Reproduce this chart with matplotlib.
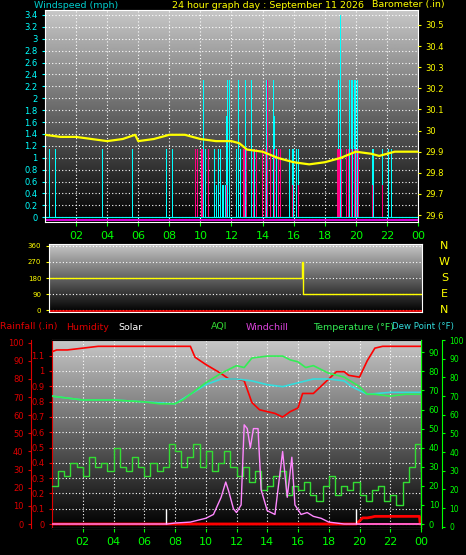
import numpy as np
import matplotlib
matplotlib.use("Agg")
import matplotlib.pyplot as plt

# ---------------- data ----------------
baro_t = [0,1,2,3,4,5,5.8,6,7,8,9,10,11,12,12.5,13,14,15,16,17,18,19,20,21,21.5,22,22.5,24]
baro_v = [29.98,29.97,29.97,29.96,29.95,29.96,29.98,29.95,29.96,29.98,29.98,29.96,29.95,29.95,29.94,29.91,29.90,29.87,29.85,29.84,29.85,29.87,29.90,29.89,29.88,29.89,29.90,29.90]
gust_t = [0.28,0.45,0.69,3.7,5.6,5.65,7.8,8.05,8.2,8.3,9.4,9.7,9.85,10.2,10.35,10.5,10.75,10.9,11.05,11.15,11.3,11.4,11.5,11.6,11.7,11.75,11.85,12.1,12.3,12.45,12.6,12.8,12.9,13.0,13.3,13.5,13.7,14.0,14.25,14.35,14.7,14.75,14.9,15.25,15.5,15.75,15.9,16.0,16.2,16.3,18.85,18.9,19.0,19.05,19.5,19.6,19.7,19.8,19.9,20.0,20.1,20.2,21.05,21.15,21.7,22.1,22.3]
gust_v = [1.14,0.55,1.14,1.14,1.14,1.14,1.14,1.14,1.14,0.55,1.14,1.14,1.14,2.3,1.14,0.55,1.14,1.14,0.55,1.14,1.14,0.55,0.55,0.55,1.7,2.3,2.3,1.14,1.14,2.3,1.14,2.3,2.3,2.3,2.3,1.14,1.14,1.14,2.3,1.7,2.3,1.7,1.14,1.14,1.14,1.14,1.14,1.14,1.14,1.14,1.7,2.3,3.4,2.3,1.7,2.3,2.3,2.3,2.3,2.3,2.3,2.3,1.14,1.14,1.14,1.14,1.14]
avg_t = [9.7,9.8,10.1,10.5,11.7,12.75,12.85,12.95,13.4,13.6,14.0,14.2,14.3,14.5,14.75,15.0,15.15,15.9,16.3,18.85,18.95,19.05,19.4,19.55,19.75,19.9,20.05,20.15,21.05,21.7]
avg_v = [1.14,1.14,1.14,1.14,0.55,1.14,1.14,1.14,1.14,1.14,1.14,1.14,2.3,1.14,1.14,1.14,1.14,0.55,0.55,1.14,1.14,1.14,1.14,1.14,1.14,1.14,1.14,1.14,0.55,0.55]
dir_t = [0,16.3,16.3,16.35,16.35,24]
dir_v = [180,180,270,270,90,90]
temp_t = [0,2,4,6,7,8,8.5,9,10,11,12,12.5,13,14,15,15.5,16,16.5,17,18,19,20,20.5,21,22,23,24]
temp_v = [67,65,65,64,63,63,65,68,74,79,83,82,87,88,88,86,85,82,83,79,77,72,68,68,67,68,68]
dew_t = [0,2,4,6,8,9,10,11,12,13,14,15,16,17,18,19,19.5,20,20.5,22,24]
dew_v = [67,65,65,64,63,68,73,76,76,75,73,72,74,76,76,75,72,70,68,69,69]
hum_t = [0,0.3,1,2,3,9,9.3,10,11,11.5,12,12.5,13,13.5,14,14.5,15,15.5,16,16.3,17,17.5,18,18.5,19,19.3,20,20.5,21,21.5,24]
hum_v = [95,96,96,97,98,98,92,88,83,80,80,79,67,63,62,61,59,62,64,72,72,76,80,84,84,82,81,90,97,98,98]
aqi_t = list(np.arange(0, 24.01, 0.4))
aqi_v = [20,28,25,32,30,25,35,30,32,28,40,30,28,35,30,25,32,28,30,42,38,30,35,42,30,38,28,32,38,30,25,30,22,28,18,20,25,28,15,20,18,22,15,12,20,25,15,20,18,22,15,12,18,20,12,15,10,22,30,42,28]
sol_t = [0,7.5,8,9,9.5,10,10.5,11,11.3,11.5,11.8,12,12.3,12.5,12.7,12.9,13.1,13.4,13.6,14,14.5,15,15.3,15.6,15.8,16.2,16.6,17,17.5,18,19,24]
sol_v = [0,0,0.5,1,2,3,5,14,22,17,8,6,10,52,50,40,50,50,18,7,5,38,14,35,10,5,6,4,3,1,0,0]
rain_t = [0,19.8,20.2,20.5,20.8,21,23.9,23.95,24]
rain_v = [0,0,0.04,0.04,0.045,0.05,0.05,0,0]
hour_ticks = list(range(2, 25, 2))
hour_labels = ["%02d" % (h % 24) for h in hour_ticks]

W, H = 466, 555
fig = plt.figure(figsize=(W/100, H/100), dpi=100, facecolor="black")
FS = 6
TF = 6.8

def frac(l, t, r, b):
    return [l/W, 1-b/H, (r-l)/W, (b-t)/H]

def bg(ax):
    g = np.linspace(0.78, 0.0, 256).reshape(-1, 1)
    ax.imshow(g, extent=[0, 1, 0, 1], transform=ax.transAxes, cmap="gray",
              vmin=0, vmax=1, aspect="auto", zorder=0)
    ax.grid(True, color="white", ls=(0, (1, 2)), lw=0.8)
    for s in ax.spines.values():
        s.set_color("white")

# ---------------- top panel ----------------
ax1 = fig.add_axes(frac(45, 10, 418, 222))
bg(ax1)
ax1.set_xlim(0, 24)
ax1.set_ylim(-0.079, 3.484)
ax1.bar(gust_t, gust_v, width=0.05, color="#00ffff", zorder=2)
ax1.bar(avg_t, avg_v, width=0.07, color="#ff0080", zorder=3)
ax1.axhline(0, color="#00ffff", lw=0.8, zorder=2)
ax1.axhline(-0.045, color="#ff00ff", lw=1.2, zorder=2)
ax1.set_yticks(np.arange(0, 3.41, 0.2))
ax1.set_yticklabels(["%g" % round(v, 1) for v in np.arange(0, 3.41, 0.2)])
ax1.tick_params(axis="y", colors="#00ffff", labelsize=FS, length=2)
ax1.set_xticks(hour_ticks)
ax1.set_xticklabels(hour_labels)
ax1.tick_params(axis="x", colors="#00ff00", labelsize=8, length=3)
ax1b = ax1.twinx()
ax1b.set_ylim(29.567, 30.571)
ax1b.plot(baro_t, baro_v, color="yellow", lw=1.6, zorder=4)
ax1b.set_yticks(np.arange(29.6, 30.51, 0.1))
ax1b.set_yticklabels(["%g" % round(v, 1) for v in np.arange(29.6, 30.51, 0.1)])
ax1b.tick_params(axis="y", colors="yellow", labelsize=FS, length=2)
for s in ax1b.spines.values():
    s.set_visible(False)
fig.text(34/W, 1-5/H, "Windspeed (mph)", color="#00cccc", fontsize=TF, va="center")
fig.text(172/W, 1-5/H, "24 hour graph day : September 11 2026", color="yellow", fontsize=TF, va="center")
fig.text(372/W, 1-5/H, "Barometer (.in)", color="yellow", fontsize=TF, va="center")

# ---------------- middle panel ----------------
ax2 = fig.add_axes(frac(49, 244, 422, 312))
bg(ax2)
ax2.set_xlim(0, 24)
ax2.set_ylim(-11, 371)
ax2.grid(False, axis="x")
ax2.plot(dir_t, dir_v, color="yellow", lw=1)
ax2.axhline(-5, color="#ff0000", lw=1.2)
ax2.set_yticks([0, 90, 180, 270, 360])
ax2.tick_params(axis="y", colors="yellow", labelsize=5, length=2)
ax2.set_xticks([])
for lab, v in zip(["N", "W", "S", "E", "N"], [360, 270, 180, 90, 0]):
    ax2.text(1.06, (v+11)/382, lab, transform=ax2.transAxes, color="yellow",
             fontsize=8, ha="center", va="center")

# ---------------- bottom panel ----------------
ax3 = fig.add_axes(frac(52, 340, 421, 528))
bg(ax3)
ax3.set_xlim(0, 24)
ax3.set_ylim(-4/153, 184/153)
ax3.set_yticks(np.arange(0, 1.11, 0.1))
ax3.set_yticklabels(["%g" % round(v, 1) for v in np.arange(0, 1.11, 0.1)])
ax3.tick_params(axis="y", colors="#dd0000", labelsize=FS, length=2)
ax3.spines["left"].set_color("#dd0000")
ax3.set_xticks(hour_ticks)
ax3.set_xticklabels(hour_labels)
ax3.tick_params(axis="x", colors="#00ff00", labelsize=8, length=3)
ax3.plot(rain_t, rain_v, color="#ff0000", lw=2, zorder=5)
ax3.vlines([7.4, 19.8], 0, 0.1, color="white", lw=1, zorder=5)
ax3.axhline(0, color="#ff0040", lw=1.5, zorder=4)

axh = ax3.twinx()
axh.spines["right"].set_visible(False)
axh.spines["left"].set_visible(True)
axh.spines["left"].set_position(("outward", 15))
axh.spines["left"].set_color("#dd0000")
axh.yaxis.set_ticks_position("left")
axh.yaxis.set_label_position("left")
axh.set_ylim(-4/1.813, 184/1.813)
axh.set_yticks(range(0, 101, 10))
axh.tick_params(axis="y", colors="#dd0000", labelsize=FS, length=2)
axh.plot(hum_t, hum_v, color="#ff0000", lw=1.2, zorder=4)

axt = ax3.twinx()
axt.set_ylim(-4/1.908, 184/1.908)
axt.set_yticks(range(0, 91, 10))
axt.tick_params(axis="y", colors="#00ff00", labelsize=FS, length=2)
axt.plot(aqi_t, aqi_v, color="#33dd33", lw=1, drawstyle="steps-post")
axt.plot(sol_t, sol_v, color="#ff88ff", lw=1)
axt.plot(dew_t, dew_v, color="#33dddd", lw=1.2)
axt.plot(temp_t, temp_v, color="#33ee55", lw=1.2)
for s in ["left", "top", "bottom"]:
    axt.spines[s].set_visible(False)
axt.spines["right"].set_color("#00ff00")

axo = ax3.twinx()
axo.spines["right"].set_position(("outward", 15))
axo.spines["right"].set_color("#00ff00")
for s in ["left", "top", "bottom"]:
    axo.spines[s].set_visible(False)
axo.set_ylim(-(528-526.7)/1.867, (526.7-340)/1.867)
axo.set_yticks(range(0, 101, 10))
axo.tick_params(axis="y", colors="#00ff00", labelsize=5.5, length=2)

ty = 1-327/H
fig.text(0/W, ty, "Rainfall (.in)", color="#dd0000", fontsize=TF, va="center")
fig.text(66/W, ty, "Humidity", color="#dd0000", fontsize=TF, va="center")
fig.text(118/W, ty, "Solar", color="white", fontsize=TF, va="center")
fig.text(211/W, ty, "AQI", color="#33dd33", fontsize=TF, va="center")
fig.text(246/W, ty, "Windchill", color="#dd44dd", fontsize=TF, va="center")
fig.text(313/W, ty, "Temperature (\u00b0F)", color="#33ee55", fontsize=TF, va="center")
fig.text(392/W, ty, "Dew Point (\u00b0F)", color="#33dddd", fontsize=6.2, va="center")

fig.savefig("out.png", dpi=100, facecolor="black")
